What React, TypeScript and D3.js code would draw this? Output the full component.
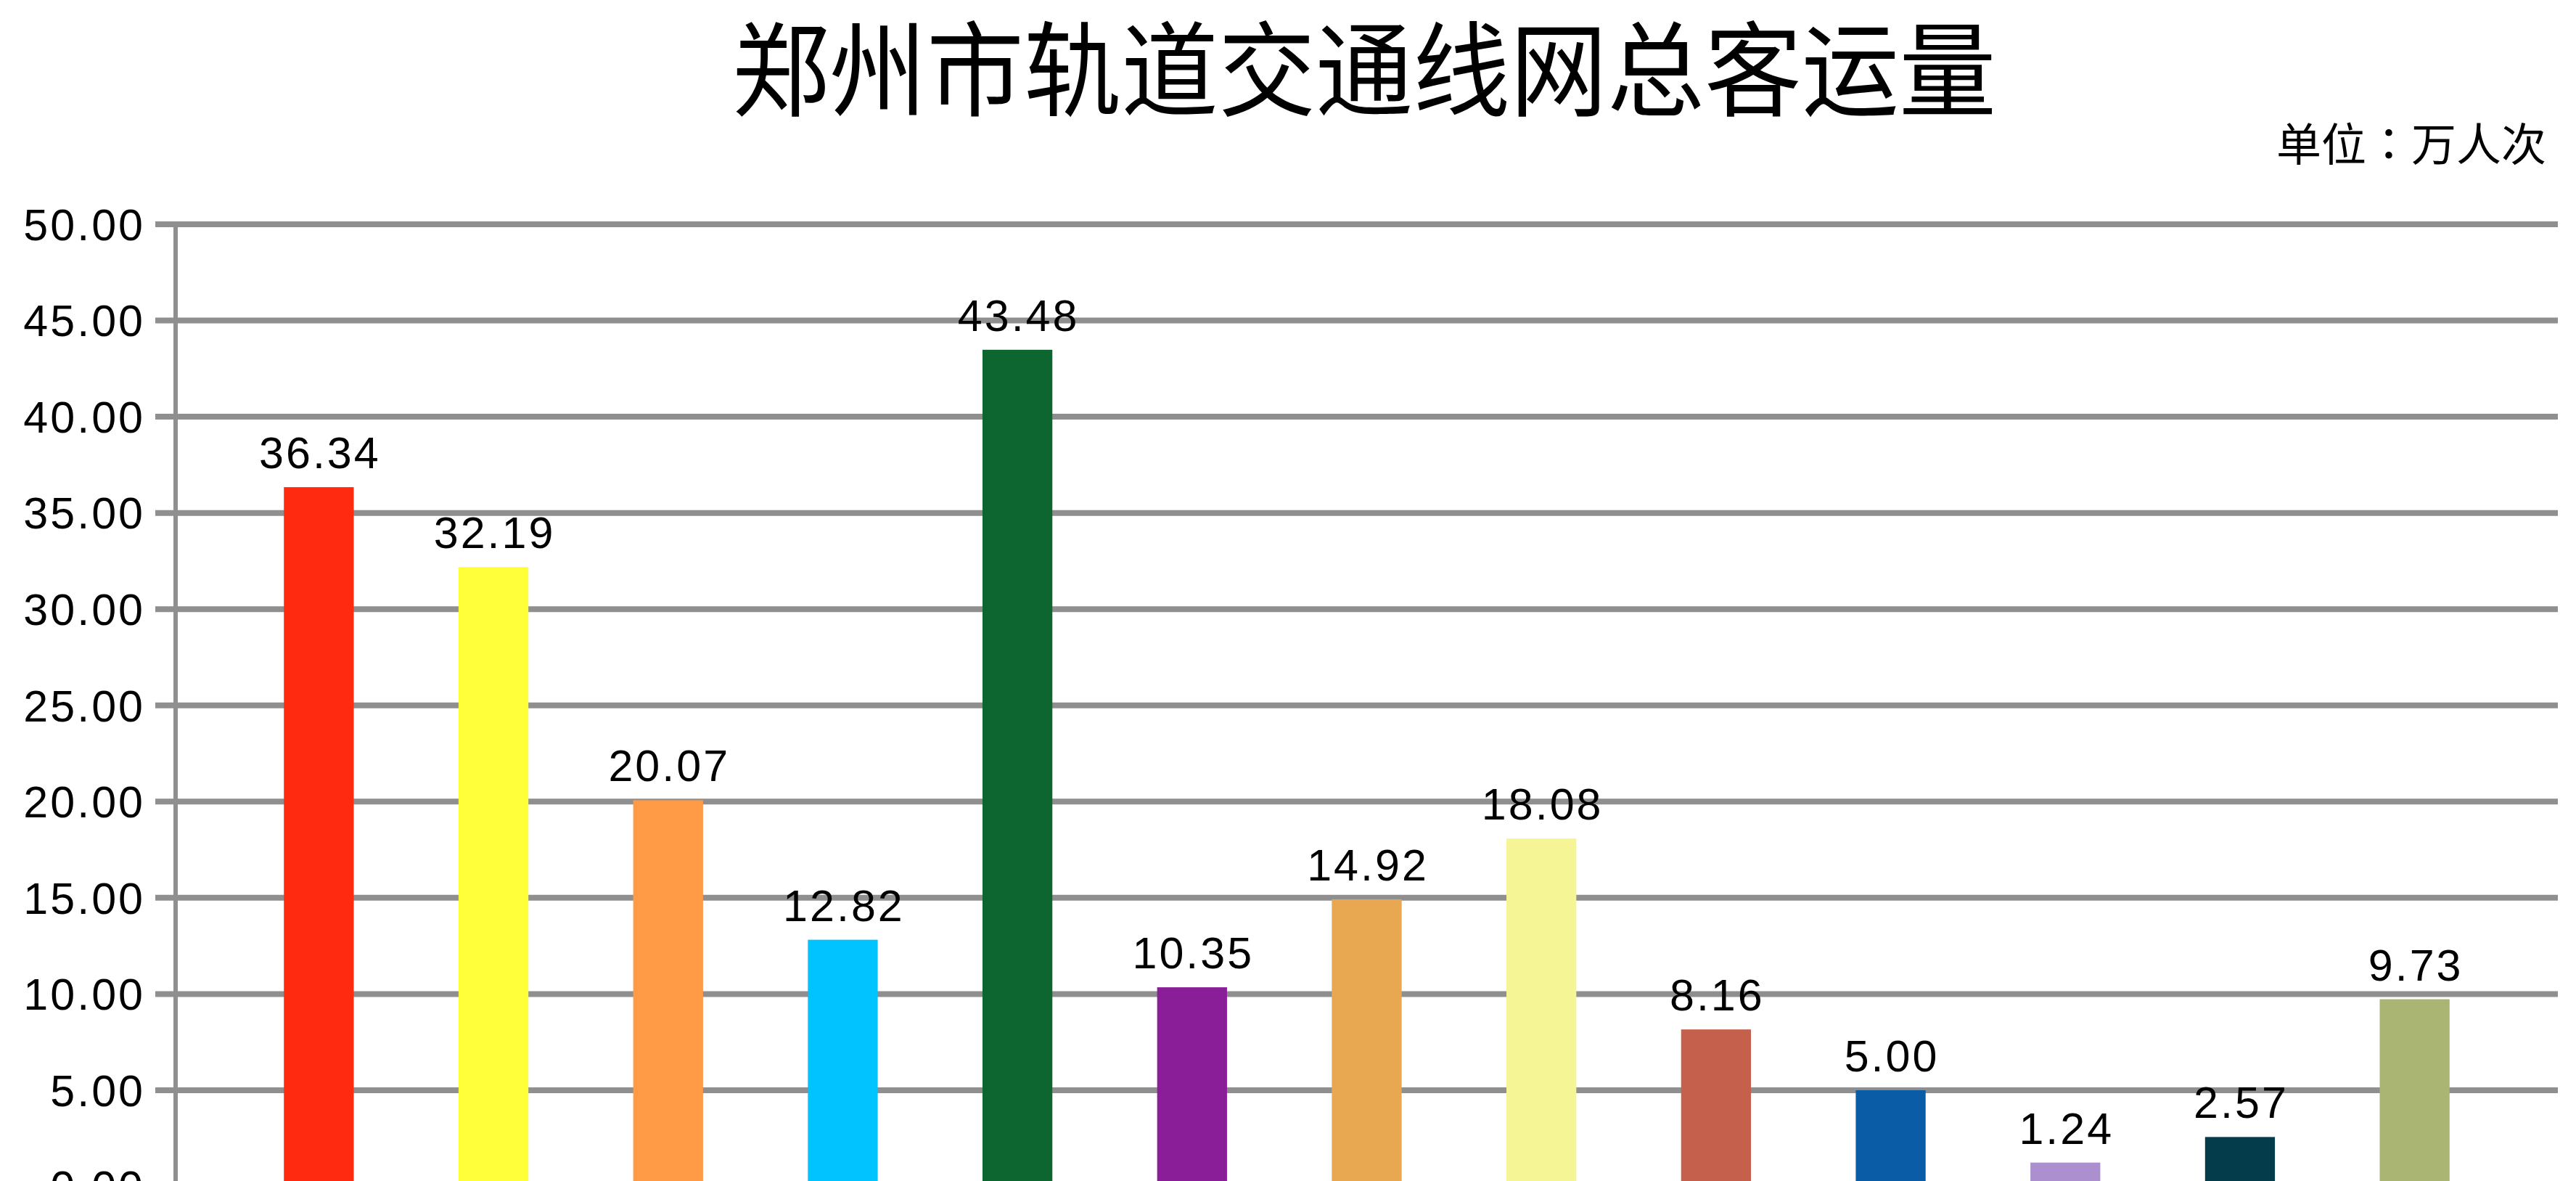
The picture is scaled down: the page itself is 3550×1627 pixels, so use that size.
import { useEffect } from "react";
import * as d3 from "d3";

// Lines (order as drawn left to right) and their ridership, in 万人次
const lines = [
  "1号线", "2号线", "城郊线", "3号线", "5号线", "4号线", "6号线",
  "14号线", "郑许线", "8号线", "12号线", "10号线", "17号线",
];
const ridership = [36.34, 32.19, 20.07, 12.82, 43.48, 10.35, 14.92, 18.08, 8.16, 5.0, 1.24, 2.57, 9.73];
const barColors = [
  "#ff2a10", "#ffff3a", "#ff9a46", "#00c3ff", "#0d652f", "#8a1e98", "#e8a852",
  "#f6f596", "#c5604c", "#0b5ca7", "#ab8fcf", "#043c4b", "#aab574",
];
const yTicks = [0, 5, 10, 15, 20, 25, 30, 35, 40, 45, 50];

const title = "郑州市轨道交通线网总客运量";

const W = 3550;
const H = 1627;

export default function App() {
  useEffect(() => {
    document.body.style.margin = "0";
    document.body.style.background = "#ffffff";
  }, []);

  const x = d3.scaleBand<string>()
    .domain(lines)
    .range([242, 3525])
    .paddingInner(0.6)
    .paddingOuter(0.62);

  const y = d3.scaleLinear().domain([0, 50]).range([1634.5, 309]);

  const numFont = "'Liberation Sans', Arial, sans-serif";
  const cjkFont = "'Noto Sans CJK SC', sans-serif";
  const fs = 61;

  return (
    <svg width={W} height={H} style={{ display: "block", background: "#fff" }}>
      {/* Title, slightly stretched vertically like the original */}
      <g transform="translate(1880,149) scale(1,1.06)">
        <text textAnchor="middle" fontFamily={cjkFont} fontSize={134} fill="#000">
          {title}
        </text>
      </g>
      {/* Unit note, with a centred full-width colon */}
      <text x={3509} y={222} textAnchor="end" fontFamily={cjkFont} fontSize={62} fill="#000">
        <tspan>单位</tspan>
        <tspan fontFamily="'Noto Sans CJK JP', sans-serif">：</tspan>
        <tspan>万人次</tspan>
      </text>

      {/* Gridlines + tick stubs */}
      {yTicks.map((t) => (
        <line key={`g${t}`} x1={214} x2={3525} y1={y(t)} y2={y(t)} stroke="#8f8f8f" strokeWidth={8} />
      ))}
      <line x1={242} x2={242} y1={y(50) - 4} y2={H} stroke="#8f8f8f" strokeWidth={6} />

      {/* Y tick labels */}
      {yTicks.map((t) => (
        <text
          key={`t${t}`}
          x={200}
          y={y(t) + fs * 0.358}
          textAnchor="end"
          fontFamily={numFont}
          fontSize={fs}
          letterSpacing={3}
          fill="#000"
        >
          {t.toFixed(2)}
        </text>
      ))}

      {/* Bars */}
      {lines.map((name, i) => (
        <rect
          key={name}
          x={x(name)}
          y={y(ridership[i])}
          width={x.bandwidth()}
          height={y(0) - y(ridership[i])}
          fill={barColors[i]}
        />
      ))}

      {/* Value labels */}
      {lines.map((name, i) => (
        <text
          key={`v${name}`}
          x={(x(name) ?? 0) + x.bandwidth() / 2 + 1.5}
          y={y(ridership[i]) - 26}
          textAnchor="middle"
          fontFamily={numFont}
          fontSize={fs}
          letterSpacing={3}
          fill="#000"
        >
          {ridership[i].toFixed(2)}
        </text>
      ))}
    </svg>
  );
}
